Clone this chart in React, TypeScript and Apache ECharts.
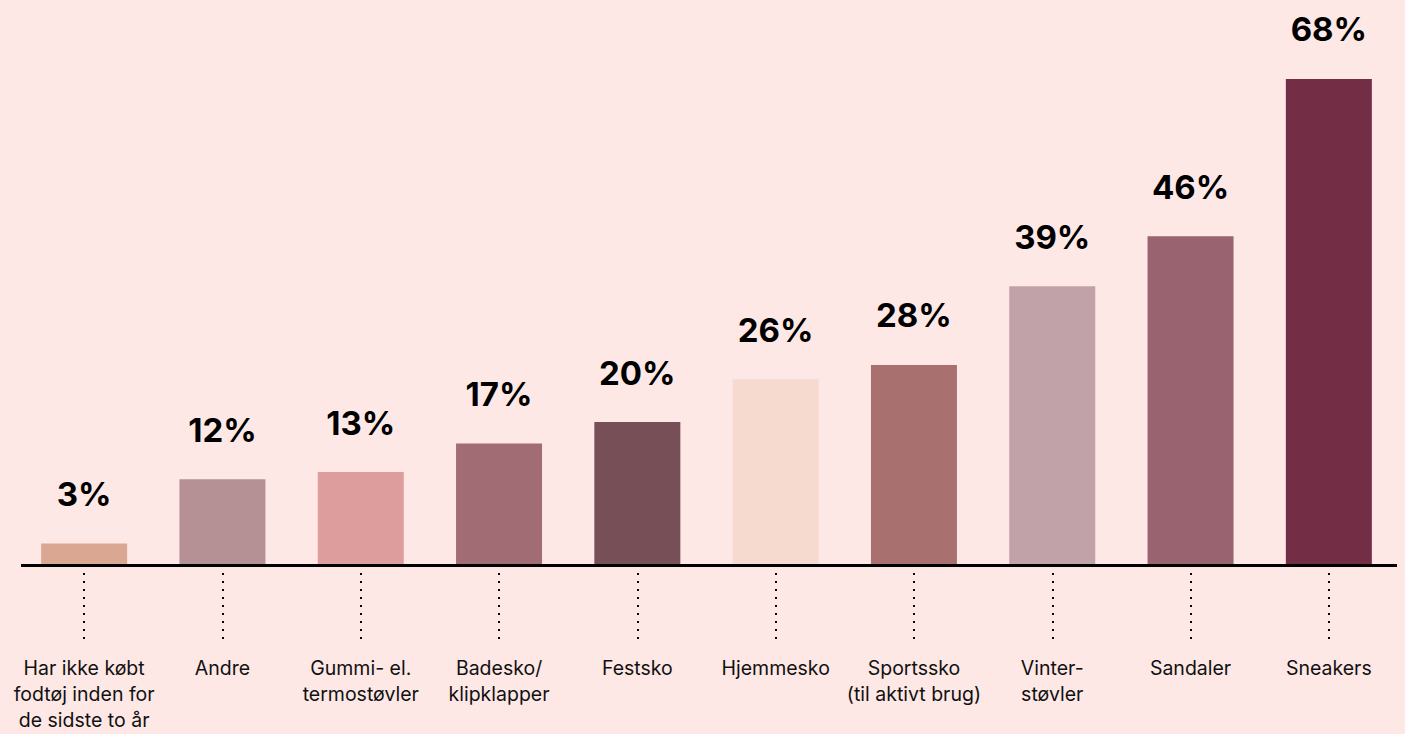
import React, { useEffect, useRef } from "react";
import * as echarts from "echarts";

const categories = [
  "Har ikke købt\nfodtøj inden for\nde sidste to år",
  "Andre",
  "Gummi- el.\ntermostøvler",
  "Badesko/\nklipklapper",
  "Festsko",
  "Hjemmesko",
  "Sportssko\n(til aktivt brug)",
  "Vinter-\nstøvler",
  "Sandaler",
  "Sneakers",
];
const values = [3, 12, 13, 17, 20, 26, 28, 39, 46, 68];
const barColors = [
  "#d9a792",
  "#b59095",
  "#dd9d9c",
  "#a26c74",
  "#774f56",
  "#f6d9cf",
  "#a87170",
  "#c2a2a9",
  "#9a6370",
  "#732d45",
];

export default function App() {
  const ref = useRef<HTMLDivElement>(null);
  useEffect(() => {
    if (!ref.current) return;
    const chart = echarts.init(ref.current, undefined, { renderer: "svg" });
    chart.setOption({
      animation: false,
      backgroundColor: "#fde8e6",
      grid: {
        left: 15,
        width: 1383,
        top: 64.7,
        height: 500.3,
        containLabel: false,
        outerBoundsMode: "none",
      },
      xAxis: {
        type: "category",
        data: categories,
        axisLine: { show: false },
        axisTick: {
          show: true,
          alignWithLabel: true,
          length: 74,
          lineStyle: { color: "#000", type: [2, 6], width: 2 },
        },
        axisLabel: {
          margin: 90,
          interval: 0,
          color: "#111",
          fontFamily: "Inter",
          fontSize: 19.5,
          lineHeight: 26,
          verticalAlign: "top",
        },
      },
      yAxis: {
        type: "value",
        min: 0,
        max: 70,
        show: false,
        splitLine: { show: false },
      },
      series: [
        {
          type: "bar",
          barWidth: 86,
          data: values.map((v, i) => ({
            value: v,
            itemStyle: { color: barColors[i] },
          })),
          label: {
            show: true,
            position: "top",
            distance: 33,
            formatter: "{c}%",
            color: "#000",
            fontFamily: "Inter",
            fontWeight: "bold",
            fontSize: 33,
          },
        },
      ],
      graphic: [
        {
          type: "line",
          shape: { x1: 21, y1: 565.5, x2: 1397, y2: 565.5 },
          style: { stroke: "#000", lineWidth: 3 },
          z: 100,
        },
      ],
    });
    return () => chart.dispose();
  }, []);
  return (
    <div style={{ position: "fixed", left: 0, top: 0, width: 1405, height: 734, overflow: "hidden" }}>
      <div ref={ref} style={{ width: 1405, height: 734 }} />
    </div>
  );
}
